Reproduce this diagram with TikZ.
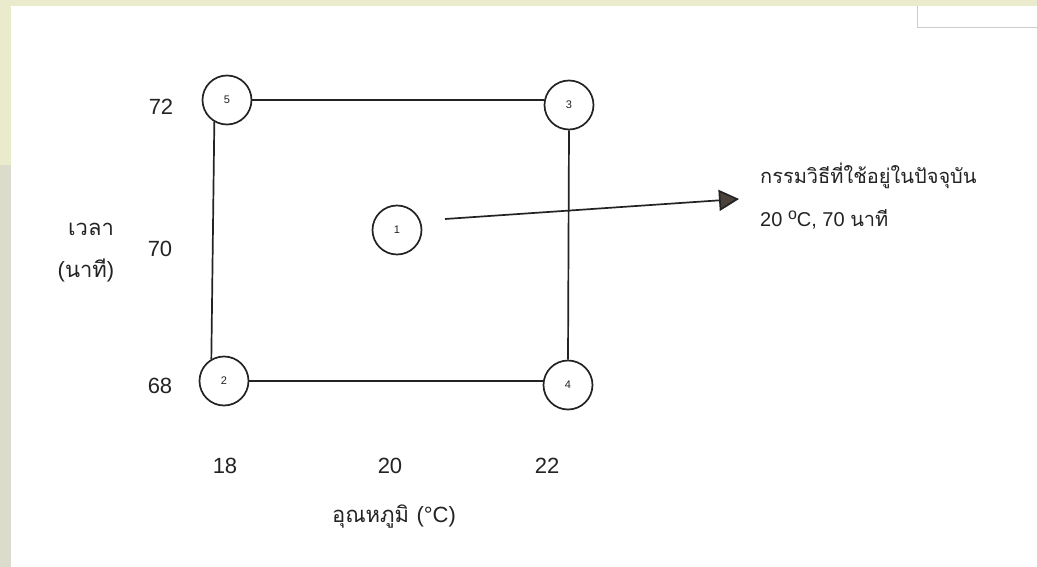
\documentclass[tikz,border=0pt]{standalone}
\usepackage{fontspec}
\setmainfont{Liberation Sans}
\newfontfamily\thai[Script=Thai]{Loma}
\usetikzlibrary{arrows.meta}
\definecolor{ink}{HTML}{232323}
\definecolor{paleyellow}{HTML}{EAEACC}
\definecolor{palegray}{HTML}{DCDCCC}
\definecolor{headcol}{HTML}{4A423A}
\tikzset{
  pt/.style={circle, draw=ink, line width=1.7pt, minimum size=49pt, inner sep=0pt, font=\fontsize{11}{12}\selectfont, text=ink},
  lab/.style={font=\fontsize{22}{26}\selectfont, text=ink, inner sep=0pt},
  note/.style={font=\fontsize{20}{24}\selectfont, text=ink, inner sep=0pt, anchor=base west},
  edge/.style={draw=ink, line width=1.7pt}
}
\begin{document}
\begin{tikzpicture}[x=1pt, y=-1pt]
\useasboundingbox (0,0) rectangle (1037,567);
% background frame
\fill[white] (0,0) rectangle (1037,567);
\fill[paleyellow] (0,0) rectangle (1037,6);
\fill[paleyellow] (0,0) rectangle (11,165);
\fill[palegray] (0,165) rectangle (11,567);
\draw[gray!40, line width=0.8pt] (917,6) -- (917,27) -- (1037,27);
% points
\node[pt] (n5) at (227,100) {5};
\node[pt] (n3) at (569,105) {3};
\node[pt] (n1) at (397,230) {1};
\node[pt] (n2) at (224,381) {2};
\node[pt] (n4) at (568,385) {4};
% edges
\draw[edge] (n5.east) -- (n3.west |- n5.east);
\draw[edge] (n2.east) -- (n4.west |- n2.east);
\draw[edge] (n3.south) -- (n4.north);
\draw[edge] (n5.240) -- (n2.120);
% arrow
\coordinate (as) at (445,219);
\coordinate (at) at (739,199);
\draw[edge, -{Triangle[length=20pt, width=21pt, fill=headcol]}] (as) -- (at);
% note
\node[note] (t1) at (760,184) {\thai กรรมวิธีที่ใช้อยู่ในปัจจุบัน};
\node[note] (t2) at (760,226) {20 \raisebox{0.35em}{\fontsize{16}{16}\selectfont o}C, 70 {\thai นาที}};
% axis labels
\node[lab] (y72) at (161,107) {72};
\node[lab] (y70) at (160,249) {70};
\node[lab] (y68) at (160,386) {68};
\node[lab] (ylab1) at (91,229) {\thai เวลา};
\node[lab] (ylab2) at (86,270) {(\thai นาที\rmfamily)};
\node[lab] (x18) at (225,466) {18};
\node[lab] (x20) at (390,466) {20};
\node[lab] (x22) at (547,466) {22};
\node[lab, anchor=base] (xlab) at (394,522) {\thai อุณหภูมิ \rmfamily(°C)};
\end{tikzpicture}
\end{document}
